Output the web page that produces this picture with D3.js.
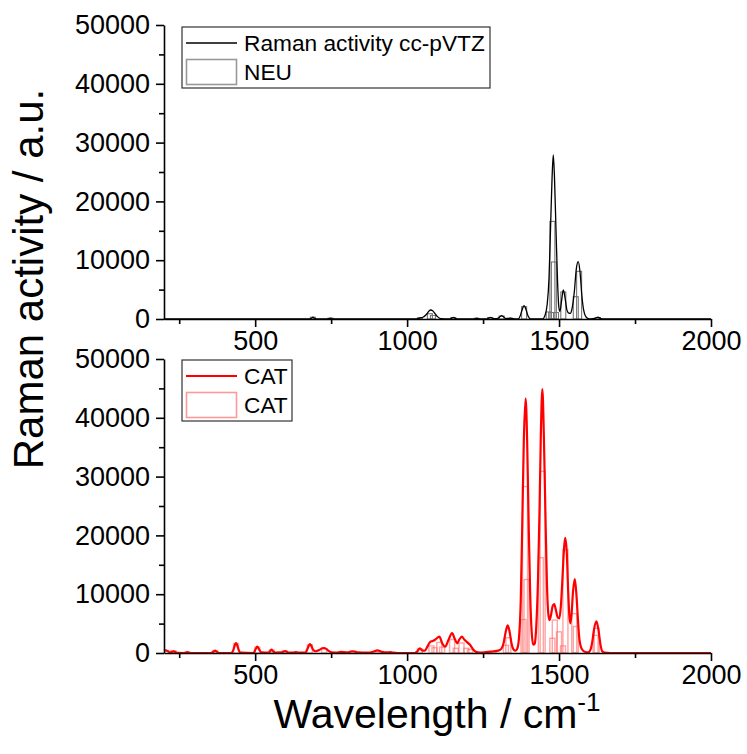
<!DOCTYPE html>
<html>
<head>
<meta charset="utf-8">
<script src="https://cdn.jsdelivr.net/npm/d3@7"></script>
<style>
  html, body { margin: 0; padding: 0; background: #fff; }
  svg { display: block; }
  text { font-family: "Liberation Sans", Arial, sans-serif; fill: #000; }
</style>
</head>
<body>
<svg id="chart" width="747" height="754"></svg>
<script>
// ---- axis ticks ----
const xMajorTicks = [500, 1000, 1500, 2000];
const xMinorTicks = [250, 750, 1250, 1750];
const yMajorTicks = [0, 10000, 20000, 30000, 40000, 50000];
const yMinorTicks = [5000, 15000, 25000, 35000, 45000];

// ---- NEU: broadened spectrum [wavenumber, activity] ----
const neuCurve = [
  [200,0],[680,0],[684,100],[690,300],[696,100],[700,0],[740,0],[748,150],[756,0],
  [1030,0],[1042,200],[1052,300],[1064,800],[1072,1350],[1078,1530],[1084,1400],[1092,900],[1100,400],[1110,80],
  [1140,0],[1146,120],[1152,280],[1158,120],[1166,0],[1220,0],[1229,130],[1238,0],
  [1262,0],[1268,150],[1274,280],[1280,150],[1290,40],[1300,150],[1306,420],[1311,560],[1316,420],[1324,100],
  [1332,80],[1339,150],[1346,60],[1366,0],[1372,500],[1378,1500],[1385,2270],[1392,1500],[1398,500],[1406,30],
  [1446,0],[1453,500],[1461,2500],[1467,7000],[1472,15500],[1477,24000],[1481,27900],[1485,24000],[1490,15000],
  [1495,6500],[1499,2200],[1503,1300],[1508,3000],[1514,4930],[1520,3500],[1526,1500],[1532,1000],[1537,970],
  [1542,1600],[1550,4500],[1557,8600],[1563,9750],[1569,8000],[1575,4000],[1581,1500],[1588,400],[1596,80],
  [1604,30],[1620,150],[1628,300],[1636,100],[1645,0],[2000,0]
];
// ---- NEU: computed Raman activities (sticks) ----
const neuSticks = [
  [690,300],[748,150],[1042,200],[1075,900],[1085,600],[1152,250],[1229,120],[1273,250],
  [1311,500],[1339,150],[1385,2100],[1466,1200],[1474,1100],[1478,16600],[1483,9700],
  [1490,1100],[1514,4600],[1555,3800],[1566,8100],[1628,250]
];

// ---- CAT: broadened spectrum [wavenumber, activity] ----
const catCurve = [
  [200,400],[205,450],[212,350],[220,100],[226,150],[231,300],[237,150],[245,20],[268,0],[277,150],[286,0],
  [355,0],[362,200],[368,420],[374,200],[382,0],[422,0],[428,500],[433,1300],[437,1700],[441,1300],[446,500],[452,50],
  [495,0],[501,600],[507,1100],[513,600],[520,100],[544,50],[549,300],[554,570],[559,300],[566,80],
  [588,100],[593,250],[598,340],[603,250],[610,60],[626,80],[634,170],[642,80],[665,80],[672,700],[677,1300],
  [680,1530],[684,1300],[690,600],[698,300],[711,500],[720,800],[727,850],[734,700],[742,350],[752,100],
  [770,50],[778,150],[785,200],[792,150],[805,100],[814,250],[821,300],[828,250],[838,100],[870,50],
  [890,250],[902,450],[914,250],[925,100],[935,100],[944,150],[953,60],[970,0],[1025,0],[1034,300],
  [1042,800],[1050,400],[1058,400],[1068,1200],[1076,1900],[1084,2040],[1093,2300],[1106,2780],[1116,1600],
  [1125,1070],[1136,2200],[1148,3400],[1156,2500],[1165,1650],[1172,2300],[1180,2780],[1188,2300],[1198,1800],
  [1207,1400],[1216,700],[1226,200],[1240,60],[1260,150],[1284,300],[1300,400],[1310,700],[1318,1800],
  [1324,3500],[1331,4700],[1337,3700],[1343,1800],[1349,700],[1356,400],[1362,700],[1368,2500],[1374,9000],
  [1379,22000],[1384,36000],[1390,43300],[1395,36000],[1400,22000],[1405,10000],[1410,3500],[1415,1400],
  [1420,1600],[1425,4500],[1431,13000],[1436,25000],[1440,37000],[1445,44900],[1450,37000],[1455,24000],
  [1460,12000],[1465,6500],[1469,5600],[1474,6600],[1479,8000],[1484,8330],[1490,7200],[1496,6000],
  [1501,5900],[1506,8000],[1511,12500],[1516,17500],[1520,19600],[1525,17500],[1530,10500],[1534,6300],
  [1537,5050],[1541,6500],[1546,10500],[1552,12580],[1557,10000],[1562,5800],[1566,2800],[1570,1400],
  [1576,600],[1585,200],[1596,100],[1603,500],[1609,1800],[1615,4000],[1623,5390],[1630,3800],[1636,1500],
  [1642,300],[1650,50],[1670,0],[2000,0]
];
// ---- CAT: computed Raman activities (sticks) ----
const catSticks = [
  [231,400],[277,150],[368,400],[437,1600],[507,1000],[554,500],[598,300],[680,1400],[727,700],
  [821,250],[902,400],[1042,700],[1080,1200],[1090,900],[1106,1800],[1115,1000],[1148,2300],
  [1160,800],[1179,1700],[1195,800],[1207,600],[1284,250],[1325,1300],[1333,2600],[1383,5700],
  [1388,28300],[1393,12500],[1440,16200],[1446,30900],[1478,2500],[1486,5600],[1500,3600],
  [1513,1200],[1521,17600],[1550,6700],[1555,4500],[1620,3000],[1624,4200]
];

const svg = d3.select("#chart");
const x = d3.scaleLinear().domain([200, 2000]).range([164, 711]);
const yTop = d3.scaleLinear().domain([0, 50000]).range([319, 25]);
const yBot = d3.scaleLinear().domain([0, 50000]).range([653, 359]);
const BAR_W = 5;
const TICK_FONT = 27;

function drawPanel(y, curve, sticks, lineColor, lineWidth, barColor, barOpacity, barWidth) {
  const g = svg.append("g");
  // sticks as outlined columns
  g.selectAll("rect.stick").data(sticks).enter().append("rect")
    .attr("class", "stick")
    .attr("x", d => x(d[0]) - BAR_W / 2)
    .attr("y", d => y(d[1]))
    .attr("width", BAR_W)
    .attr("height", d => y(0) - y(d[1]))
    .attr("fill", "none")
    .attr("stroke", barColor)
    .attr("stroke-opacity", barOpacity)
    .attr("stroke-width", barWidth);
  // broadened spectrum
  const line = d3.line().x(d => x(d[0])).y(d => y(d[1])).curve(d3.curveMonotoneX);
  g.append("path").datum(curve)
    .attr("d", line)
    .attr("fill", "none")
    .attr("stroke", lineColor)
    .attr("stroke-width", lineWidth)
    .attr("stroke-linejoin", "round");

  // x axis (major + minor)
  const xAxis = d3.axisBottom(x).tickValues(xMajorTicks).tickSize(8).tickSizeOuter(0).tickFormat(d3.format("d"));
  const gx = g.append("g").attr("transform", `translate(0,${y(0)})`).call(xAxis);
  gx.select(".domain").attr("stroke-width", 1.6);
  gx.selectAll(".tick line").attr("stroke-width", 1.6);
  gx.selectAll(".tick text").attr("font-size", TICK_FONT).attr("y", 12).attr("dy", "0.71em")
    .style("font-family", "'Liberation Sans', Arial, sans-serif");
  const gxm = g.append("g").attr("transform", `translate(0,${y(0)})`)
    .call(d3.axisBottom(x).tickValues(xMinorTicks).tickSize(5).tickSizeOuter(0).tickFormat(""));
  gxm.select(".domain").remove();
  gxm.selectAll(".tick line").attr("stroke-width", 1.6);

  // y axis (major + minor)
  const yAxis = d3.axisLeft(y).tickValues(yMajorTicks).tickSize(8).tickSizeOuter(0).tickFormat(d3.format("d"));
  const gy = g.append("g").attr("transform", `translate(${x(200)},0)`).call(yAxis);
  gy.select(".domain").attr("stroke-width", 1.6);
  gy.selectAll(".tick line").attr("stroke-width", 1.6);
  gy.selectAll(".tick text").attr("font-size", TICK_FONT).attr("x", -14)
    .style("font-family", "'Liberation Sans', Arial, sans-serif");
  const gym = g.append("g").attr("transform", `translate(${x(200)},0)`)
    .call(d3.axisLeft(y).tickValues(yMinorTicks).tickSize(5).tickSizeOuter(0).tickFormat(""));
  gym.select(".domain").remove();
  gym.selectAll(".tick line").attr("stroke-width", 1.6);
}

drawPanel(yTop, neuCurve, neuSticks, "#000", 1.3, "#777", 1, 1.1);
drawPanel(yBot, catCurve, catSticks, "#ff0000", 2.2, "#ff6666", 0.6, 1.4);

// legends
function legend(x0, y0, w, items) {
  const g = svg.append("g");
  g.append("rect").attr("x", x0).attr("y", y0).attr("width", w).attr("height", 61)
    .attr("fill", "#fff").attr("stroke", "#333").attr("stroke-width", 1.2);
  items.forEach((it, i) => {
    if (it.type === "line") {
      g.append("line").attr("x1", x0 + 4).attr("x2", x0 + 55)
        .attr("y1", y0 + 16).attr("y2", y0 + 16)
        .attr("stroke", it.color).attr("stroke-width", it.width);
    } else {
      g.append("rect").attr("x", x0 + 4.5).attr("y", y0 + 32.5).attr("width", 50).attr("height", 25)
        .attr("fill", "none").attr("stroke", it.color).attr("stroke-width", 1.6);
    }
    g.append("text").attr("x", x0 + 62).attr("y", y0 + 24 + i * 29)
      .attr("font-size", 22.7).text(it.label);
  });
}
legend(182, 27, 308, [
  { type: "line", color: "#000", width: 1.3, label: "Raman activity cc-pVTZ" },
  { type: "rect", color: "#999", label: "NEU" }
]);
legend(182, 360, 110, [
  { type: "line", color: "#ff0000", width: 2, label: "CAT" },
  { type: "rect", color: "#ff9999", label: "CAT" }
]);

// axis titles
svg.append("text")
  .attr("transform", "translate(43,279) rotate(-90)")
  .attr("text-anchor", "middle")
  .attr("font-size", 42)
  .text("Raman activity / a.u.");

const xt = svg.append("text")
  .attr("x", 437).attr("y", 728)
  .attr("text-anchor", "middle")
  .attr("font-size", 41);
xt.append("tspan").text("Wavelength / cm");
xt.append("tspan").attr("dy", -17).attr("font-size", 26).text("-1");
</script>
</body>
</html>
